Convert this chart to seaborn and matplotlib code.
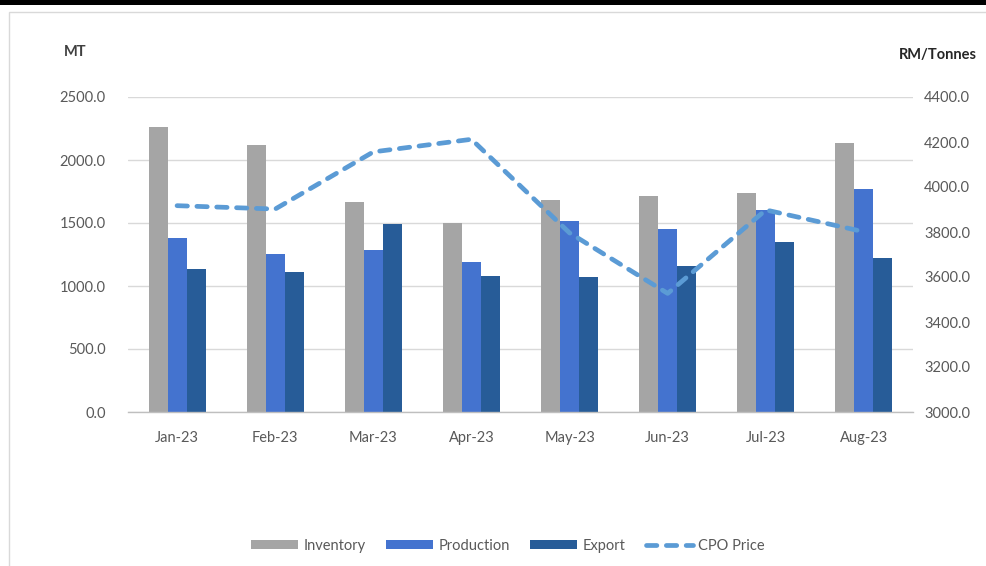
import numpy as np
import pandas as pd
import matplotlib
matplotlib.use("Agg")
import matplotlib.pyplot as plt
from matplotlib.patches import Rectangle, Patch
from matplotlib.lines import Line2D
import seaborn as sns

months = ["Jan-23", "Feb-23", "Mar-23", "Apr-23", "May-23", "Jun-23", "Jul-23", "Aug-23"]
inventory = [2264, 2121, 1669, 1497, 1683, 1714, 1735, 2132]
production = [1378, 1251, 1286, 1193, 1518, 1450, 1605, 1767]
export = [1132, 1111, 1490, 1082, 1074, 1161, 1347, 1220]
cpo_price = [3917, 3902, 4156, 4212, 3796, 3527, 3898, 3801]
series_names = ["Inventory", "Production", "Export"]
left_ticks = [0, 500, 1000, 1500, 2000, 2500]
right_ticks = [3000, 3200, 3400, 3600, 3800, 4000, 4200, 4400]

colors = {"Inventory": "#a5a5a5", "Production": "#4473cf", "Export": "#275c98"}
line_color = "#5b9bd5"

sns.set_style("white")
plt.rcParams["font.family"] = ["Lato", "DejaVu Sans"]

W, H = 987, 566
fig = plt.figure(figsize=(W / 100, H / 100), dpi=100)

# frame decoration
fig.patches.append(Rectangle((0, 1 - 5 / H), 1, 5 / H, transform=fig.transFigure,
                             facecolor="black", edgecolor="none", zorder=0))
fig.patches.append(Rectangle((9 / W, -0.05), 1.2, 1 - 12 / H + 0.05, transform=fig.transFigure,
                             facecolor="none", edgecolor="#d9d9d9", lw=1.0, zorder=0))

x0, x1 = 128, 913
y0, y1 = 412, 97
ax = fig.add_axes([x0 / W, 1 - y0 / H, (x1 - x0) / W, (y0 - y1) / H])

df = pd.DataFrame({
    "Month": months * 3,
    "Series": np.repeat(series_names, len(months)),
    "Value": inventory + production + export,
})
sns.barplot(data=df, x="Month", y="Value", hue="Series", hue_order=series_names,
            palette=colors, width=0.58, gap=0, ax=ax, legend=False, saturation=1,
            edgecolor="none", zorder=2)

ax.set_xlim(-0.5, 7.5)
ax.set_ylim(0, 2500)
ax.set_yticks(left_ticks)
ax.set_yticklabels([f"{v:.1f}" for v in left_ticks])
ax.yaxis.grid(True, color="#d9d9d9", lw=1.0, zorder=0)
ax.set_axisbelow(True)
for s in ["top", "right", "left"]:
    ax.spines[s].set_visible(False)
ax.spines["bottom"].set_color("#bfbfbf")
ax.spines["bottom"].set_linewidth(1.0)
ax.set_xlabel("")
ax.set_ylabel("")
ax.tick_params(axis="y", length=0, pad=16, labelsize=10.5, labelcolor="#595959")
ax.tick_params(axis="x", which="major", length=0, pad=14, labelsize=10.5, labelcolor="#595959")
ax.set_xticks(np.arange(-0.5, 8, 1), minor=True)
ax.tick_params(axis="x", which="minor", length=5, color="#bfbfbf", width=1.0)

ax2 = ax.twinx()
sns.lineplot(x=np.arange(len(months)), y=cpo_price, ax=ax2, color=line_color,
             lw=3.4, zorder=5)
ln = ax2.lines[0]
ln.set_dashes((2.2, 2.0))
ln.set_dash_capstyle("round")
ax2.set_ylim(3000, 4400)
ax2.set_yticks(right_ticks)
ax2.set_yticklabels([f"{v:.1f}" for v in right_ticks])
ax2.tick_params(axis="y", length=0, pad=8, labelsize=10.5, labelcolor="#595959")
for s in ax2.spines.values():
    s.set_visible(False)
ax2.set_xlim(-0.5, 7.5)
ax2.set_ylabel("")

fig.text(75 / W, 1 - 52 / H, "MT", ha="center", va="center", fontsize=10.5,
         fontweight="bold", color="#404040")
fig.text(938 / W, 1 - 55 / H, "RM/Tonnes", ha="center", va="center", fontsize=10.5,
         fontweight="bold", color="#262626")

handles = [Patch(facecolor=colors[n], edgecolor="none") for n in series_names]
handles.append(Line2D([0], [0], color=line_color, lw=3.4, dashes=(2.2, 2.0),
                      dash_capstyle="round"))
leg = fig.legend(handles, series_names + ["CPO Price"], loc="center",
                 bbox_to_anchor=(508 / W, 1 - 546 / H), ncol=4, frameon=False,
                 fontsize=10.5, handlelength=3.2, handleheight=0.6, handletextpad=0.4,
                 columnspacing=1.4, labelcolor="#595959")

fig.savefig("out.png", dpi=100)
